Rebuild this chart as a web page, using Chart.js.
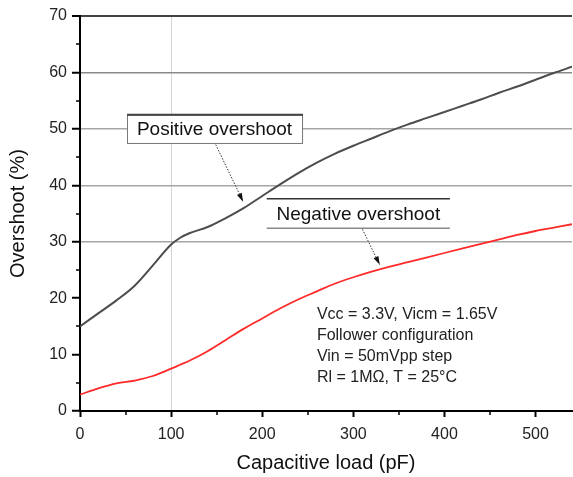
<!DOCTYPE html>
<html>
<head>
<meta charset="utf-8">
<script src="https://cdn.jsdelivr.net/npm/chart.js@4"></script>
<style>
  html, body { margin: 0; padding: 0; background: #fff; }
  canvas { display: block; }
</style>
</head>
<body>
<canvas id="chart" width="573" height="477"></canvas>
<script>
// Data
const loadPf = [0, 20, 40, 60, 80, 100, 110, 120, 140, 160, 180, 200, 220, 240, 260, 280, 300,
  320, 340, 360, 380, 400, 420, 440, 460, 480, 500, 520, 540];
const positiveOvershoot = [15.0, 17.3, 19.6, 22.2, 25.8, 29.5, 30.7, 31.5, 32.6, 34.2, 36.0, 38.1,
  40.2, 42.2, 44.0, 45.6, 47.0, 48.3, 49.6, 50.8, 51.9, 53.0, 54.1, 55.2, 56.4, 57.5, 58.7, 59.9, 61.0];
const negativeOvershoot = [2.9, 4.0, 4.9, 5.4, 6.2, 7.5, 8.2, 8.9, 10.6, 12.6, 14.6, 16.4,
  18.2, 19.8, 21.2, 22.6, 23.7, 24.7, 25.6, 26.4, 27.2, 28.0, 28.8, 29.6, 30.4, 31.2, 31.9, 32.5, 33.1];
const xTicks = [0, 50, 100, 150, 200, 250, 300, 350, 400, 450, 500];
const yTicks = [0, 5, 10, 15, 20, 25, 30, 35, 40, 45, 50, 55, 60, 65, 70];
const conditions = ['Vcc = 3.3V, Vicm = 1.65V', 'Follower configuration', 'Vin = 50mVpp step', 'Rl = 1M\u03A9, T = 25\u00B0C'];

const FONT = 'Liberation Sans, Arial, sans-serif';

function pts(ys) {
  return loadPf.map((x, i) => ({ x: x, y: ys[i] }));
}

// minor ticks (shorter, unlabelled)
const minorTicks = {
  id: 'minorTicks',
  afterDraw(chart) {
    const { ctx, scales: { x, y } } = chart;
    ctx.save();
    ctx.strokeStyle = '#000';
    ctx.lineWidth = 1.5;
    ctx.beginPath();
    for (const v of xTicks) {
      if (v % 100 === 0) continue;
      const px = Math.round(x.getPixelForValue(v));
      ctx.moveTo(px, y.bottom);
      ctx.lineTo(px, y.bottom + 4);
    }
    for (const v of yTicks) {
      if (v % 10 === 0) continue;
      const py = Math.round(y.getPixelForValue(v));
      ctx.moveTo(x.left, py);
      ctx.lineTo(x.left - 4, py);
    }
    ctx.stroke();
    ctx.restore();
  }
};

function arrow(ctx, x1, y1, x2, y2) {
  ctx.save();
  ctx.strokeStyle = '#333';
  ctx.lineWidth = 1;
  ctx.setLineDash([1.5, 1.5]);
  ctx.beginPath();
  ctx.moveTo(x1, y1);
  ctx.lineTo(x2, y2);
  ctx.stroke();
  ctx.setLineDash([]);
  const a = Math.atan2(y2 - y1, x2 - x1);
  ctx.fillStyle = '#111';
  ctx.beginPath();
  ctx.moveTo(x2, y2);
  ctx.lineTo(x2 - 9 * Math.cos(a - 0.3), y2 - 9 * Math.sin(a - 0.3));
  ctx.lineTo(x2 - 9 * Math.cos(a + 0.3), y2 - 9 * Math.sin(a + 0.3));
  ctx.closePath();
  ctx.fill();
  ctx.restore();
}

const notes = {
  id: 'notes',
  afterDatasetsDraw(chart) {
    const { ctx, scales: { x, y } } = chart;
    ctx.save();

    // Positive overshoot label
    let l = x.getPixelForValue(51.6), r = x.getPixelForValue(243.7);
    let t = y.getPixelForValue(52.5), b = y.getPixelForValue(47.5);
    ctx.fillStyle = '#fff';
    ctx.fillRect(l, t, r - l, b - t);
    ctx.strokeStyle = '#777';
    ctx.lineWidth = 1;
    ctx.strokeRect(l + 0.5, t + 0.5, r - l, b - t);
    ctx.strokeStyle = '#444';
    ctx.lineWidth = 2;
    ctx.beginPath(); ctx.moveTo(l, t); ctx.lineTo(r + 1, t); ctx.stroke();
    ctx.fillStyle = '#111';
    ctx.font = '19px ' + FONT;
    ctx.textAlign = 'center';
    ctx.textBaseline = 'middle';
    ctx.fillText('Positive overshoot', (l + r) / 2, (t + b) / 2 + 1);
    arrow(ctx, x.getPixelForValue(149), y.getPixelForValue(47.2), x.getPixelForValue(179), y.getPixelForValue(37.1));

    // Negative overshoot label
    l = x.getPixelForValue(205); r = x.getPixelForValue(406);
    t = y.getPixelForValue(37.6); b = y.getPixelForValue(32.4);
    ctx.fillStyle = '#fff';
    ctx.fillRect(l, t, r - l, b - t);
    ctx.strokeStyle = '#333';
    ctx.lineWidth = 1.5;
    ctx.beginPath(); ctx.moveTo(l, t); ctx.lineTo(r, t); ctx.stroke();
    ctx.strokeStyle = '#888';
    ctx.beginPath(); ctx.moveTo(l, b); ctx.lineTo(r, b); ctx.stroke();
    ctx.fillStyle = '#111';
    ctx.fillText('Negative overshoot', (l + r) / 2, (t + b) / 2 + 1);
    arrow(ctx, x.getPixelForValue(310), y.getPixelForValue(32.2), x.getPixelForValue(329), y.getPixelForValue(25.9));

    // test conditions
    ctx.font = '16px ' + FONT;
    ctx.textAlign = 'left';
    ctx.fillStyle = '#222';
    const x0 = x.getPixelForValue(260), y0 = y.getPixelForValue(17);
    conditions.forEach((s, i) => ctx.fillText(s, x0, y0 + i * 21));
    ctx.restore();
  }
};

new Chart(document.getElementById('chart'), {
  type: 'line',
  data: {
    datasets: [
      {
        label: 'Positive overshoot',
        data: pts(positiveOvershoot),
        borderColor: '#4d4d4d',
        borderWidth: 2,
        pointRadius: 0,
        cubicInterpolationMode: 'monotone',
      },
      {
        label: 'Negative overshoot',
        data: pts(negativeOvershoot),
        borderColor: '#ff2a2a',
        borderWidth: 1.8,
        pointRadius: 0,
        cubicInterpolationMode: 'monotone',
      },
    ],
  },
  options: {
    responsive: false,
    animation: false,
    layout: { padding: { top: 16, right: 1, left: 0, bottom: 0 } },
    plugins: { legend: { display: false }, tooltip: { enabled: false } },
    scales: {
      x: {
        type: 'linear',
        min: 0,
        max: 540,
        afterBuildTicks: s => { s.ticks = xTicks.map(v => ({ value: v })); },
        afterFit: s => { s.height = 66; },
        border: { color: '#000', width: 2 },
        grid: {
          color: c => (c.tick && c.tick.value === 100 ? '#d6d6d6' : 'rgba(0,0,0,0)'),
          tickColor: c => (c.tick && c.tick.value % 100 === 0 ? '#000' : 'rgba(0,0,0,0)'),
          tickWidth: 2,
          tickLength: 6,
        },
        ticks: {
          color: '#222',
          font: { family: FONT, size: 16 },
          padding: 8,
          maxRotation: 0,
          autoSkip: false,
          callback: v => (v % 100 === 0 ? v : ''),
        },
        title: {
          display: true,
          text: 'Capacitive load (pF)',
          color: '#111',
          font: { family: FONT, size: 20 },
          padding: { top: 0, bottom: 2 },
        },
      },
      y: {
        min: 0,
        max: 70,
        afterBuildTicks: s => { s.ticks = yTicks.map(v => ({ value: v })); },
        afterFit: s => { s.width = 80; },
        border: { color: '#000', width: 2 },
        grid: {
          color: c => {
            const v = c.tick && c.tick.value;
            if (v === 70) return '#444';
            if (v >= 30 && v <= 60 && v % 10 === 0) return v === 60 ? '#8a8a8a' : '#a6a6a6';
            return 'rgba(0,0,0,0)';
          },
          lineWidth: c => (c.tick && c.tick.value === 70 ? 2 : 1.5),
          tickColor: c => (c.tick && c.tick.value % 10 === 0 ? '#000' : 'rgba(0,0,0,0)'),
          tickWidth: 2,
          tickLength: 8,
        },
        ticks: {
          color: '#222',
          font: { family: FONT, size: 16 },
          padding: 5,
          autoSkip: false,
          callback: v => (v % 10 === 0 ? v : ''),
        },
        title: {
          display: true,
          text: 'Overshoot (%)',
          color: '#111',
          font: { family: FONT, size: 20 },
          padding: { top: 6, bottom: 0 },
        },
      },
    },
  },
  plugins: [minorTicks, notes],
});
</script>
</body>
</html>
